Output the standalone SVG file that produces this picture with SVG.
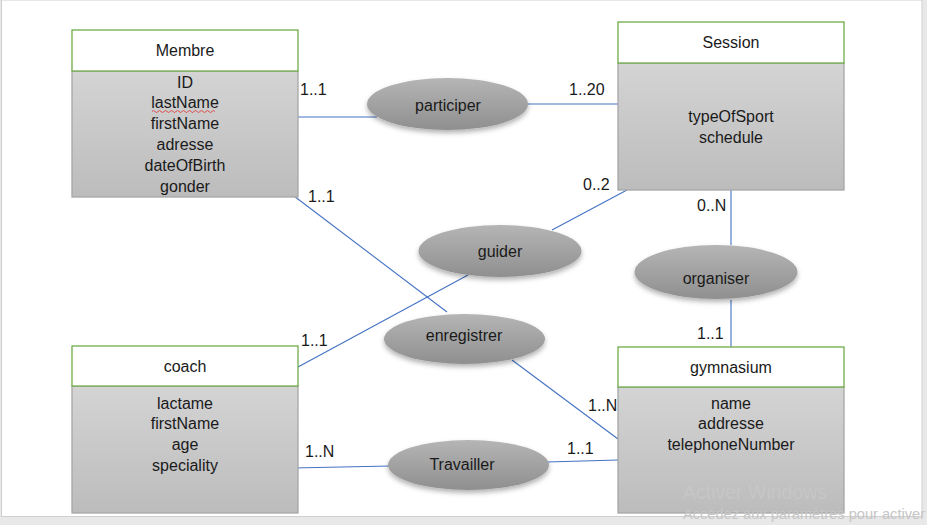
<svg xmlns="http://www.w3.org/2000/svg" width="927" height="525" viewBox="0 0 927 525">
<defs>
<linearGradient id="bodyG" x1="0" y1="0" x2="0" y2="1"><stop offset="0" stop-color="#d4d4d4"/><stop offset="1" stop-color="#bcbcbc"/></linearGradient>
<linearGradient id="ellG" x1="0" y1="0" x2="0" y2="1"><stop offset="0" stop-color="#b5b5b5"/><stop offset="1" stop-color="#8f8f8f"/></linearGradient>
<filter id="sh" x="-20%" y="-30%" width="140%" height="170%"><feDropShadow dx="0" dy="3" stdDeviation="2.5" flood-color="#000" flood-opacity="0.3"/></filter>
<style>
text{font-family:"Liberation Sans",Arial,sans-serif;font-size:16px;fill:#1a1a1a}
.c{text-anchor:middle}
.hd{fill:#fff;stroke:#70ad47;stroke-width:1.3}
.bd{fill:url(#bodyG);stroke:#a6a6a6;stroke-width:1.3}
.el{fill:url(#ellG);filter:url(#sh)}
.ln{stroke:#4472c4;stroke-width:1.1;fill:none}
.wm{font-size:19.5px;fill:#c6c6c6}
.wm2{font-size:14px;fill:#c6c6c6}
</style>
</defs>
<rect x="0" y="0" width="927" height="525" fill="#e8e8e8"/>
<rect x="1.5" y="0" width="920.5" height="516.5" fill="#fff" stroke="#cfcfcf" stroke-width="1"/>

<g id="connectors">
<line class="ln" x1="298" y1="117" x2="377" y2="117"/>
<line class="ln" x1="527" y1="104" x2="618" y2="104"/>
<line class="ln" x1="286" y1="190" x2="447" y2="312"/>
<line class="ln" x1="512" y1="360" x2="618" y2="439"/>
<line class="ln" x1="552" y1="230" x2="627" y2="190"/>
<line class="ln" x1="298" y1="367" x2="468" y2="275"/>
<line class="ln" x1="731" y1="190" x2="731" y2="245"/>
<line class="ln" x1="731" y1="300" x2="731" y2="356"/>
<line class="ln" x1="293" y1="468" x2="390" y2="466"/>
<line class="ln" x1="547" y1="462" x2="618" y2="460"/>
</g>

<g id="labels">
<text x="300" y="95">1..1</text>
<text x="569" y="95">1..20</text>
<text x="308" y="202">1..1</text>
<text x="583" y="190">0..2</text>
<text x="697" y="211">0..N</text>
<text x="301" y="346">1..1</text>
<text x="697" y="339">1..1</text>
<text x="588" y="411">1..N</text>
<text x="305" y="457">1..N</text>
<text x="567" y="454">1..1</text>
</g>

<g id="membre">
<rect class="bd" x="72" y="71" width="226" height="126"/>
<rect class="hd" x="72" y="30" width="226" height="41"/>
<text class="c" x="185" y="56">Membre</text>
<text class="c" x="185" y="87.5">ID</text>
<text class="c" x="185" y="108.3">lastName</text>
<path d="M152 111.5 q1.5 -2 3 0 t3 0 t3 0 t3 0 t3 0 t3 0 t3 0 t3 0 t3 0 t3 0 t3 0 t3 0 t3 0 t3 0 t3 0 t3 0 t3 0 t3 0 t3 0 t3 0 t3 0" fill="none" stroke="#e03030" stroke-width="0.8"/>
<text class="c" x="185" y="129.1">firstName</text>
<text class="c" x="185" y="149.9">adresse</text>
<text class="c" x="185" y="170.7">dateOfBirth</text>
<text class="c" x="185" y="191.5">gonder</text>
</g>

<g id="session">
<rect class="bd" x="618" y="63" width="226" height="127"/>
<rect class="hd" x="618" y="22" width="226" height="41"/>
<text class="c" x="731" y="48">Session</text>
<text class="c" x="731" y="122">typeOfSport</text>
<text class="c" x="731" y="142.5">schedule</text>
</g>

<g id="coach">
<rect class="bd" x="72" y="386" width="226" height="127"/>
<rect class="hd" x="72" y="346" width="226" height="40"/>
<text class="c" x="185" y="372">coach</text>
<text class="c" x="185" y="408.5">lactame</text>
<text class="c" x="185" y="429.3">firstName</text>
<text class="c" x="185" y="450.1">age</text>
<text class="c" x="185" y="470.9">speciality</text>
</g>

<g id="gymnasium">
<rect class="bd" x="618" y="387" width="226" height="126"/>
<rect class="hd" x="618" y="347" width="226" height="40"/>
<text class="c" x="731" y="373">gymnasium</text>
<text class="c" x="731" y="408.5">name</text>
<text class="c" x="731" y="429.3">addresse</text>
<text class="c" x="731" y="450.3">telephoneNumber</text>
</g>

<g id="participer">
<ellipse class="el" cx="447.5" cy="104" rx="80.5" ry="26"/>
<text class="c" x="448" y="110.5">participer</text>
</g>
<g id="guider">
<ellipse class="el" cx="500" cy="251" rx="81.5" ry="26"/>
<text class="c" x="500" y="257">guider</text>
</g>
<g id="enregistrer">
<ellipse class="el" cx="464.5" cy="339" rx="80.5" ry="25"/>
<text class="c" x="464" y="341">enregistrer</text>
</g>
<g id="organiser">
<ellipse class="el" cx="716" cy="272" rx="81.5" ry="27"/>
<text class="c" x="716" y="284">organiser</text>
</g>
<g id="travailler">
<ellipse class="el" cx="468.5" cy="465" rx="80.5" ry="25"/>
<text class="c" x="462" y="469.5">Travailler</text>
</g>

<g id="watermark">
<text class="wm" x="683" y="499">Activer Windows</text>
<text class="wm2" x="683" y="519" textLength="242" lengthAdjust="spacingAndGlyphs">Accédez aux paramètres pour activer</text>
</g>
</svg>
